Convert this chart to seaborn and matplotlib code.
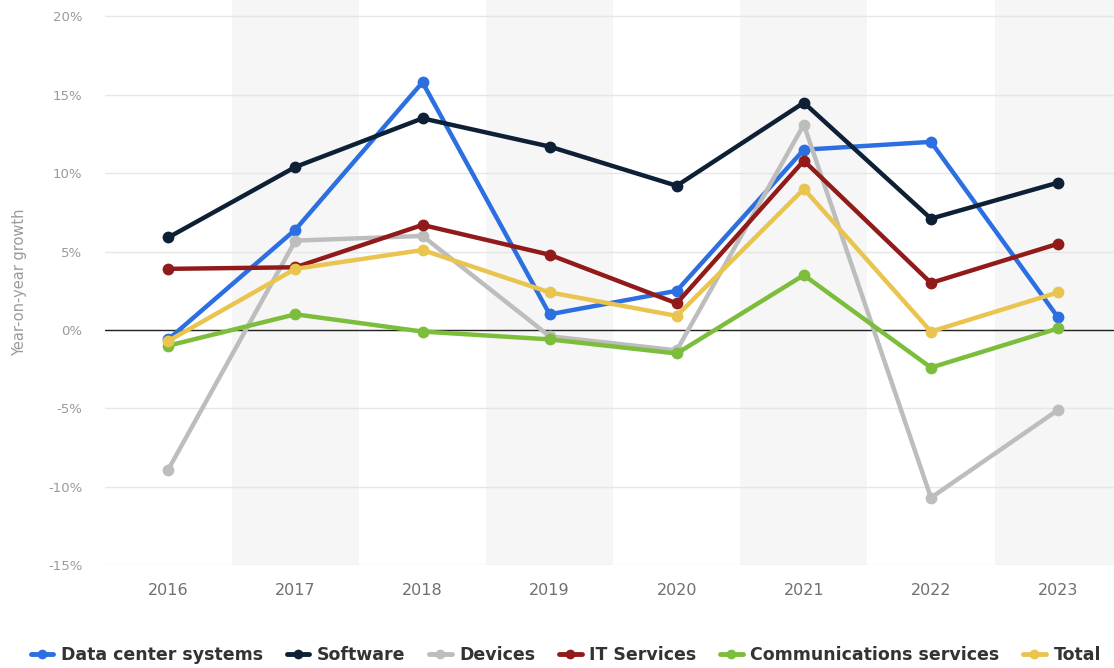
import matplotlib
matplotlib.use("Agg")
import matplotlib.pyplot as plt
from matplotlib.lines import Line2D
import pandas as pd
import seaborn as sns

years = [2016, 2017, 2018, 2019, 2020, 2021, 2022, 2023]

data_center = [-0.6, 6.4, 15.8, 1.0, 2.5, 11.5, 12.0, 0.8]
software = [5.9, 10.4, 13.5, 11.7, 9.2, 14.5, 7.1, 9.4]
devices = [-8.9, 5.7, 6.0, -0.4, -1.3, 13.1, -10.7, -5.1]
it_services = [3.9, 4.0, 6.7, 4.8, 1.7, 10.8, 3.0, 5.5]
communications = [-1.0, 1.0, -0.1, -0.6, -1.5, 3.5, -2.4, 0.1]
total = [-0.7, 3.9, 5.1, 2.4, 0.9, 9.0, -0.1, 2.4]

series_names = ["Data center systems", "Software", "Devices", "IT Services",
                "Communications services", "Total"]
series_values = [data_center, software, devices, it_services, communications, total]
colors = ["#2c6fe0", "#0d2035", "#bdbdbd", "#911b1b", "#7cbd3c", "#e9c44f"]

y_ticks = [-15, -10, -5, 0, 5, 10, 15, 20]

rows = []
for name, vals in zip(series_names, series_values):
    for yr, v in zip(years, vals):
        rows.append({"year": yr, "growth": v, "segment": name})
df = pd.DataFrame(rows)

sns.set_theme(style="white")
plt.rcParams["font.family"] = ["DejaVu Sans"]

fig = plt.figure(figsize=(11.14, 6.68), dpi=100)
ax = fig.add_axes([0.094, 0.154, 0.906, 0.846])

# alternating column shading
for i, yr in enumerate(years):
    if i % 2 == 1:
        ax.axvspan(yr - 0.5, yr + 0.5, color="#f6f6f6", zorder=0, lw=0)

for t in y_ticks:
    ax.axhline(t, color="#e6e6e6", lw=1.0, zorder=1)
ax.axhline(0, color="#222222", lw=1.0, zorder=2)

palette = dict(zip(series_names, colors))
sns.lineplot(data=df, x="year", y="growth", hue="segment", hue_order=series_names,
             palette=palette, marker="o", markersize=8.5, markeredgewidth=0,
             linewidth=3.2, ax=ax, legend=False, zorder=3)

ax.set_xlim(years[0] - 0.5, years[-1] + 0.44)
ax.set_ylim(-15, 21.05)
ax.set_xticks(years)
ax.set_xticklabels([str(y) for y in years], color="#707070", fontsize=11.5)
ax.set_yticks(y_ticks)
ax.set_yticklabels([f"{t}%" for t in y_ticks], color="#9a9a9a", fontsize=9.5)
ax.tick_params(axis="x", length=0, pad=13)
ax.tick_params(axis="y", length=0, pad=16)
ax.set_xlabel("")
ax.set_ylabel("Year-on-year growth", color="#9a9a9a", fontsize=10.5, labelpad=15)
for s in ax.spines.values():
    s.set_visible(False)

handles = [Line2D([0], [0], color=c, lw=3.5, marker="o", markersize=7,
                  markeredgewidth=0) for c in colors]
leg = fig.legend(handles, series_names, loc="center", bbox_to_anchor=(0.508, 0.019),
                 ncol=6, frameon=False, fontsize=12.5, handlelength=1.3,
                 handletextpad=0.45, columnspacing=1.35)
for txt in leg.get_texts():
    txt.set_color("#333333")
    txt.set_fontweight("semibold")

fig.savefig("out.png", dpi=100)
